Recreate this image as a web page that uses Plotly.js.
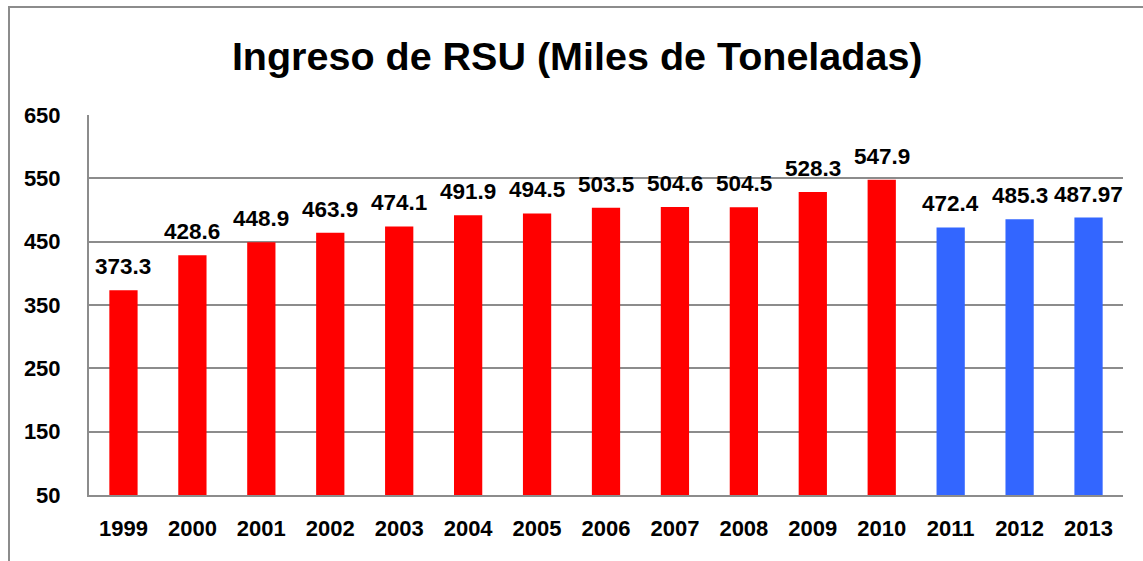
<!DOCTYPE html>
<html><head><meta charset="utf-8">
<script src="https://cdn.plot.ly/plotly-3.0.1.min.js"></script>
<style>
html,body{margin:0;padding:0;background:#fff;}
#frame{position:absolute;left:8px;top:6px;width:1200px;height:600px;border-left:2px solid #8c8c8c;border-top:2px solid #8c8c8c;box-sizing:border-box;}
#chart{position:absolute;left:0;top:0;width:1143px;height:561px;}
</style></head>
<body>
<div id="frame"></div>
<div id="chart"></div>
<script>
const years = ['1999','2000','2001','2002','2003','2004','2005','2006','2007','2008','2009','2010','2011','2012','2013'];
const values = [373.3,428.6,448.9,463.9,474.1,491.9,494.5,503.5,504.6,504.5,528.3,547.9,472.4,485.3,487.97];
const labels = ['373.3','428.6','448.9','463.9','474.1','491.9','494.5','503.5','504.6','504.5','528.3','547.9','472.4','485.3','487.97'];
const colors = years.map(y => (+y <= 2010 ? '#FF0000' : '#3366FF'));
const yTicks = [50,150,250,350,450,550,650];

const font = 'Liberation Sans, Arial, sans-serif';

const annotations = years.map((yr, i) => ({
  x: i, y: values[i], xref: 'x', yref: 'y',
  text: '<b>' + labels[i] + '</b>',
  showarrow: false, yanchor: 'bottom', xanchor: 'center', yshift: 9,
  font: {family: font, size: 22.5, color: '#000'}
}));

Plotly.newPlot('chart', [{
  type: 'bar',
  x: years,
  y: values,
  base: 0,
  marker: {color: colors, line: {width: 0}},
  cliponaxis: false,
  hoverinfo: 'none'
}], {
  width: 1143, height: 561,
  margin: {l: 89, r: 20, t: 115, b: 66},
  paper_bgcolor: 'rgba(0,0,0,0)',
  plot_bgcolor: '#fff',
  bargap: 0.59,
  showlegend: false,
  annotations: annotations,
  title: {text: '<b>Ingreso de RSU (Miles de Toneladas)</b>', x: 0.505, xanchor: 'center', y: 0.9, yanchor: 'middle',
          font: {family: font, size: 39.5, color: '#000'}},
  xaxis: {
    type: 'category',
    range: [-0.5, years.length - 0.5],
    autorange: false,
    tickfont: {family: font, size: 22, color: '#000', weight: 'bold'},
    ticks: '', showline: true, linecolor: '#8c8c8c', linewidth: 2,
    ticklabelstandoff: 13
  },
  yaxis: {
    range: [50, 650],
    autorange: false,
    tickvals: yTicks,
    ticktext: yTicks.map(String),
    tickfont: {family: font, size: 22, color: '#000', weight: 'bold'},
    showgrid: true, gridcolor: '#8c8c8c', gridwidth: 2,
    showline: true, linecolor: '#8c8c8c', linewidth: 2,
    zeroline: false, ticks: '',
    ticklabelstandoff: 22
  }
}, {displayModeBar: false, staticPlot: true});
</script>
</body></html>
